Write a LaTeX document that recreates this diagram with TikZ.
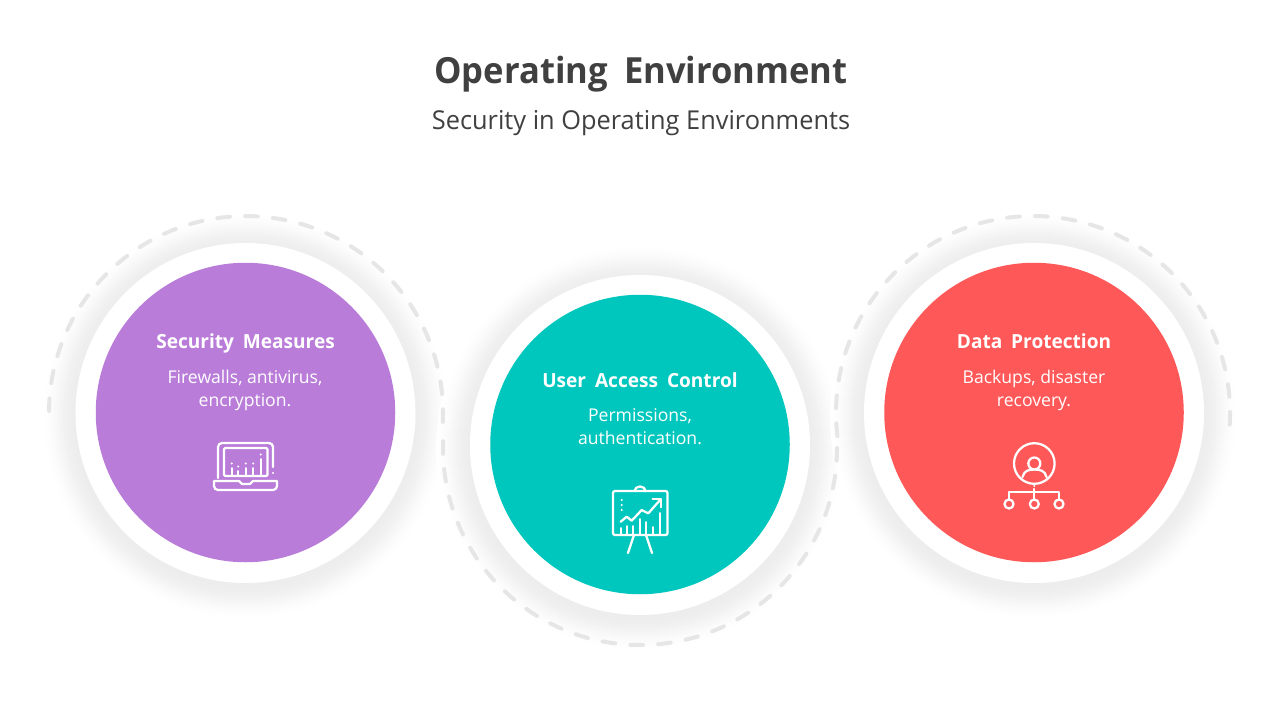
\documentclass[tikz,border=0pt]{standalone}
\usepackage{fontspec}
\setmainfont{Open Sans}
\newfontfamily\titlefont[WordSpace=1.8,FakeStretch=0.96]{Open Sans}
\newfontfamily\subfont[FakeStretch=0.975]{Open Sans}
\newfontfamily\headfont[WordSpace=1.8,FakeStretch=0.98]{Open Sans}
\definecolor{ink}{HTML}{404040}
\definecolor{purplec}{HTML}{B97CD9}
\definecolor{tealc}{HTML}{00C7BE}
\definecolor{redc}{HTML}{FF5858}
\definecolor{dashc}{HTML}{E6E6E6}
\tikzset{
  x=0.75pt,y=-0.75pt,
  title/.style={text=ink,font=\titlefont\bfseries\fontsize{27}{32}\selectfont,inner sep=0pt,anchor=base},
  subtitle/.style={text=ink,font=\subfont\fontsize{19.5}{24}\selectfont,inner sep=0pt,anchor=base},
  head/.style={text=white,font=\headfont\bfseries\fontsize{14.6}{18}\selectfont,inner sep=0pt,anchor=base},
  body/.style={text=white,font=\fontsize{13.2}{17.2}\selectfont,inner sep=0pt,anchor=base},
  dashring/.style={draw=dashc,line width=3pt,line cap=round,dash pattern=on 9.5pt off 11.4pt},
  ico/.style={draw=white,line width=1.7pt,line cap=round,line join=round},
  icothin/.style={draw=white,line width=1.5pt,line cap=round},
}
% soft shadow: opaque concentric discs, smoothstep from white to light grey
\newcommand{\softshadow}[2]{%
  \foreach \r in {204,203,...,170}{%
    \pgfmathsetmacro{\tt}{(204-\r)/34}%
    \pgfmathsetmacro{\pp}{7*\tt*\tt*(3-2*\tt)}%
    \fill[black!\pp!white] (#1,#2+3) circle[radius=\r];}%
}
\begin{document}
\begin{tikzpicture}
\useasboundingbox (0,0) rectangle (1280,720);
\fill[white] (0,0) rectangle (1280,720);
% shadows and rings
\softshadow{245.5}{413}
\softshadow{640}{445}
\softshadow{1034}{413}
\fill[white] (245.5,413) circle[radius=170];
\fill[white] (640,445) circle[radius=170];
\fill[white] (1034,413) circle[radius=170];
\draw[dashring] (49,411) arc[start angle=180.6,end angle=364.7,radius=197];
\draw[dashring] (837,448) arc[start angle=0,end angle=183,radius=197];
\draw[dashring] (837.4,436) arc[start angle=173.3,end angle=364.7,radius=197];
% discs
\fill[purplec] (245.5,412.5) circle[radius=149.75];
\fill[tealc] (640,444.5) circle[radius=149.75];
\fill[redc] (1034,412.5) circle[radius=149.75];
% titles
\node[title] (t) at (641,84) {Operating Environment};
\node[subtitle] (s) at (641,129.5) {Security in Operating Environments};
\node[head] (h1) at (245.5,348) {Security Measures};
\node[body] (b1a) at (245,383) {Firewalls, antivirus,};
\node[body] (b1b) at (245,406) {encryption.};
\node[head] (h2) at (640,387) {User Access Control};
\node[body] (b2a) at (640,421) {Permissions,};
\node[body] (b2b) at (640,444) {authentication.};
\node[head] (h3) at (1034,348) {Data Protection};
\node[body] (b3a) at (1034,383) {Backups, disaster};
\node[body] (b3b) at (1034,406) {recovery.};
% laptop icon
\draw[ico] (218,478) -- (218,447) arc[start angle=180,end angle=270,radius=4] -- (269,443) arc[start angle=270,end angle=360,radius=4] -- (273,467);
\draw[ico,rounded corners=1pt] (224,476) -- (224,448) -- (267.5,448) -- (267.5,476) -- cycle;
\draw[ico,line join=round] (214,481) -- (239,481) -- (242,484) -- (250,484) -- (253,481) -- (277,481) -- (277,486) arc[start angle=0,end angle=90,radius=4] -- (218,490) arc[start angle=90,end angle=180,radius=4] -- cycle;
\foreach \xx/\yy in {231.7/468,238.3/471,245.7/468,253.3/468,260.7/459}{\draw[icothin] (\xx,\yy) -- (\xx,475);\fill[white] (\xx,\yy-4.5) circle[radius=1.1];}
\fill[white] (273,473) circle[radius=1.1];
% board icon
\draw[ico] (634.5,491) arc[start angle=180,end angle=360,x radius=5.5,y radius=4.5];
\draw[ico,rounded corners=1.5pt] (613,491) rectangle (667.5,535);
\draw[ico] (634,535) -- (628,553);
\draw[ico] (646,535) -- (652,553);
\draw[ico] (620.7,521.7) -- (626.7,516.7) -- (631.7,520.7) -- (641.7,510) -- (648.3,513.3) -- (660.7,499.3);
\draw[ico] (652.7,499.3) -- (660.7,499.3) -- (660.7,507.3);
\foreach \xx/\yy in {620.7/528,626.7/526,633.3/526,640/519,646/522,652.7/527,660/513}{\draw[icothin] (\xx,\yy) -- (\xx,534);}
\foreach \yy in {500,505,510}{\fill[white] (621.7,\yy) circle[radius=1.2];}
% person icon
\draw[ico] (1034.3,463.5) circle[radius=20.3];
\draw[ico] (1034.3,463.5) circle[radius=6];
\draw[ico] (1022.5,477) .. controls (1024,470.5) and (1029,469.5) .. (1034.3,469.5) .. controls (1040,469.5) and (1045,470.5) .. (1046.5,477);
\draw[ico] (1009,500) -- (1009,492.3) -- (1059,492.3) -- (1059,500);
\draw[ico] (1034.3,489) -- (1034.3,500);
\fill[white] (1034.3,486) circle[radius=1.1];
\foreach \xx in {1009,1034.3,1059}{\draw[ico] (\xx,504) circle[radius=4.5];}
\end{tikzpicture}
\end{document}
